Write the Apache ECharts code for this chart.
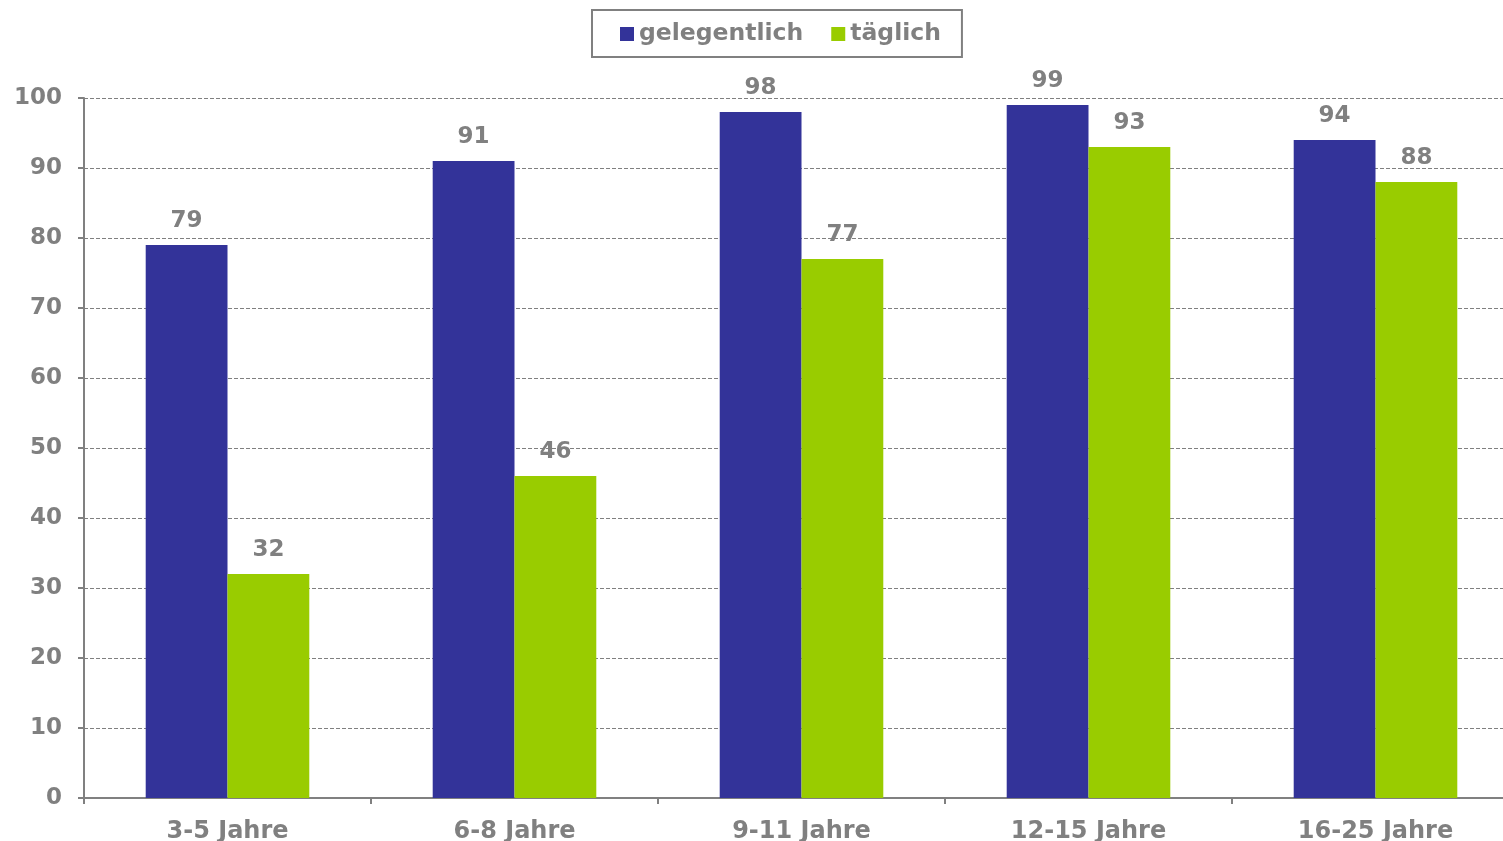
<!DOCTYPE html>
<html><head><meta charset="utf-8">
<script src="https://cdn.jsdelivr.net/npm/echarts@6/dist/echarts.min.js"></script>
<style>html,body{margin:0;padding:0;background:#fff;overflow:hidden;width:1503px;height:841px}#c{width:1519px;height:841px}</style>
</head><body><div id="c"></div>
<script>
const categories = ['3-5 Jahre','6-8 Jahre','9-11 Jahre','12-15 Jahre','16-25 Jahre'];
const gelegentlich = [79, 91, 98, 99, 94];
const taeglich = [32, 46, 77, 93, 88];
const seriesNames = ['gelegentlich','täglich'];

const gray = '#808080';
const font = 'DejaVu Sans, Verdana, sans-serif';
const chart = echarts.init(document.getElementById('c'), null, {renderer:'canvas'});
const lbl = {show:true, position:'top', color:gray, fontFamily:font, fontWeight:'bold', fontSize:23, distance:12};
chart.setOption({
  animation:false,
  legend:{
    top:10, left:592,
    data:seriesNames,
    itemWidth:14, itemHeight:14, itemGap:28,
    borderColor:gray, borderWidth:2,
    padding:[12,21,11,28],
    textStyle:{color:gray, fontFamily:font, fontWeight:'bold', fontSize:23.5},
    icon:'rect'
  },
  grid:{left:84, right:0, top:98, bottom:43, containLabel:false, outerBoundsMode:'none'},
  xAxis:{
    type:'category', data:categories,
    axisLine:{lineStyle:{color:gray, width:2}},
    axisTick:{show:true, length:6, lineStyle:{color:gray, width:2}},
    axisLabel:{color:gray, fontFamily:font, fontWeight:'bold', fontSize:24, margin:22}
  },
  yAxis:{
    type:'value', min:0, max:100, interval:10,
    axisLine:{show:true, lineStyle:{color:gray, width:2}},
    axisTick:{show:true, length:6, lineStyle:{color:gray, width:2}},
    axisLabel:{color:gray, fontFamily:font, fontWeight:'bold', fontSize:23, margin:22},
    splitLine:{show:true, lineStyle:{color:gray, type:[4,2], width:1}}
  },
  series:[
    {name:seriesNames[0], type:'bar', data:gelegentlich, itemStyle:{color:'#333399'}, barGap:'0%', barCategoryGap:'43%', label:lbl},
    {name:seriesNames[1], type:'bar', data:taeglich, itemStyle:{color:'#99CC00'}, barGap:'0%', barCategoryGap:'43%', label:lbl}
  ]
});
</script></body></html>
